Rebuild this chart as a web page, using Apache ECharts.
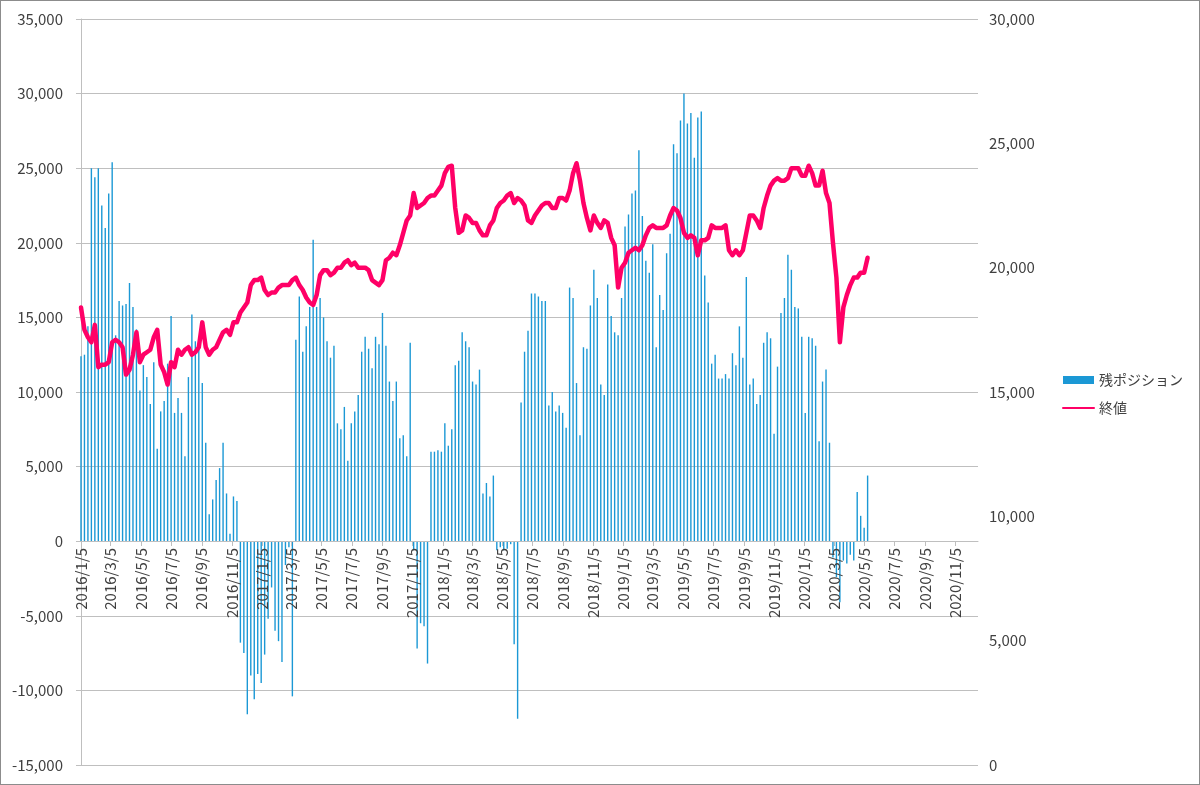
<!DOCTYPE html>
<html>
<head>
<meta charset="utf-8">
<script src="https://cdn.jsdelivr.net/npm/echarts@6/dist/echarts.min.js"></script>
<style>
  html, body { margin: 0; padding: 0; background: #fff; }
  #main { width: 1200px; height: 785px; box-sizing: border-box; border: 1px solid #8c8c8c; }
</style>
</head>
<body>
<div id="main"></div>
<script>
// weekly series, first week 2016/1/5; x is counted in days from this date
var DAY = 86400000;
var startUTC = Date.UTC(2016, 0, 5);

// 残ポジション (left axis)
var positions = [
  12400, 12500, 14400, 25000, 24400, 25000, 22500, 21000, 23300, 25400, 13800, 16100, 15800, 15900, 17300, 15700, 14200, 10100, 11800, 11000, 9200, 12000,
  6200, 8700, 9400, 11900, 15100, 8600, 9600, 8600, 5700, 11000, 15200, 13400, 13400, 10600, 6600, 1800, 2800, 4100, 4900, 6600, 3200, 500, 3000,
  2700, -6800, -7500, -11600, -9000, -10600, -8900, -9500, -7600, -5200, -3100, -6000, -6700, -8100, -1600, -400, -10400, 13500, 16400, 12700, 14400, 15700, 20200,
  15700, 16300, 15000, 13400, 12300, 13100, 7900, 7500, 9000, 5400, 7900, 8700, 9800, 12700, 13700, 12900, 11600, 13700, 13200, 15300, 13100, 10700, 9400,
  10700, 6900, 7100, 5700, 13300, -600, -7200, -5500, -5700, -8200, 6000, 6000, 6100, 6000, 7900, 6400, 7500, 11800, 12100, 14000, 13400, 13000, 10700, 10500,
  11500, 3200, 3900, 3000, 4400, -600, -400, -600, -500, -200, -6900, -11900, 9300, 12700, 14100, 16600, 16600, 16400, 16100, 16100, 9100, 10000, 8700,
  9100, 8600, 7600, 17000, 16300, 10600, 7100, 13000, 12900, 15800, 18200, 16300, 10500, 9800, 17200, 15100, 14000, 13800, 16300, 21100, 21900, 23300, 23500,
  26200, 21800, 18800, 18000, 19900, 13000, 16500, 15500, 19300, 20600, 26600, 26000, 28200, 30000, 28000, 28700, 25700, 28400, 28800, 17800, 16000, 11900, 12500,
  10900, 10900, 11200, 10900, 12600, 11800, 14400, 12300, 17700, 10500, 10900, 9200, 9800, 13300, 14000, 13600, 7200, 11700, 15300, 16300, 19200, 18200, 15700,
  15600, 13700, 8600, 13700, 13600, 13100, 6700, 10700, 11500, 6600, -1100, -2400, -4100, -1300, -1500, -900, -1300, 3300, 1700, 900, 4400
];

// 終値 (right axis)
var closes = [
  18400, 17500, 17200, 17000, 17700, 16000, 16100, 16100, 16200, 17000, 17100, 17000, 16800, 15700, 15900, 16500, 17400, 16200, 16500, 16600, 16700, 17200,
  17500, 16100, 15800, 15300, 16200, 16000, 16700, 16500, 16700, 16800, 16500, 16600, 16800, 17800, 16800, 16500, 16700, 16800, 17100, 17400, 17500, 17300, 17800,
  17800, 18200, 18400, 18600, 19300, 19500, 19500, 19600, 19100, 18900, 19000, 19000, 19200, 19300, 19300, 19300, 19500, 19600, 19300, 19100, 18800, 18600, 18500,
  18900, 19700, 19900, 19900, 19700, 19800, 20000, 20000, 20200, 20300, 20100, 20200, 20000, 20000, 20000, 19900, 19500, 19400, 19300, 19500, 20300, 20400, 20600,
  20500, 20900, 21400, 21900, 22100, 23000, 22400, 22500, 22600, 22800, 22900, 22900, 23100, 23300, 23800, 24050, 24100, 22400, 21400, 21500, 22100, 22000, 21800, 21800,
  21500, 21300, 21300, 21700, 21900, 22400, 22600, 22700, 22900, 23000, 22600, 22800, 22700, 22500, 21900, 21800, 22100, 22300, 22500, 22600, 22600, 22400, 22400,
  22800, 22800, 22700, 23100, 23800, 24200, 23500, 22600, 22000, 21500, 22100, 21800, 21600, 21900, 21800, 21200, 20900, 19200, 20000, 20200, 20600, 20700, 20800,
  20700, 20900, 21300, 21600, 21700, 21600, 21600, 21600, 21700, 22100, 22400, 22300, 22000, 21400, 21200, 21300, 21200, 20500, 21100, 21100, 21200, 21700, 21600,
  21600, 21600, 21700, 20700, 20500, 20700, 20500, 20700, 21400, 22100, 22100, 21900, 21600, 22400, 22900, 23300, 23500, 23600, 23500, 23500, 23600, 24000, 24000,
  24000, 23700, 23700, 24100, 23800, 23300, 23300, 23900, 23000, 22600, 21000, 19600, 17000, 18400, 18900, 19300, 19600, 19600, 19800, 19800, 20400
];

function dayOf(y, m, d) {
  return Math.round((Date.UTC(y, m, d) - startUTC) / DAY);
}

// x axis labels: every two months on the 5th
var labelDays = [];
for (var y = 2016; y <= 2020; y++) {
  for (var m = 0; m < 12; m += 2) {
    labelDays.push(dayOf(y, m, 5));
  }
}

var barData = positions.map(function (v, i) { return [i * 7, v]; });
var lineData = closes.map(function (v, i) { return [i * 7, v]; });

function fmtNum(v) {
  return v.toLocaleString('en-US');
}

// plot box inside the 1198x783 drawing area
var gridTop = 18, gridBottom = 19, plotH = 783 - gridTop - gridBottom;
// the date axis sits on the 0 line of the left axis (-15000..35000)
var zeroOffset = -Math.round(plotH * 15000 / 50000);

var chart = echarts.init(document.getElementById('main'));
chart.setOption({
  animation: false,
  textStyle: { fontFamily: 'Noto Sans CJK JP' },
  grid: { left: 79, right: 221, top: gridTop, bottom: gridBottom, outerBoundsMode: 'none' },
  legend: {
    orient: 'vertical',
    left: 1056,
    top: 367,
    itemWidth: 31,
    itemHeight: 8,
    itemGap: 14,
    textStyle: { fontSize: 14, color: '#404040' },
    data: [
      { name: '残ポジション', icon: 'rect' },
      { name: '終値', itemStyle: { opacity: 0 } }
    ]
  },
  xAxis: {
    type: 'value',
    min: dayOf(2016, 0, 3),
    max: dayOf(2020, 11, 21),
    offset: zeroOffset,
    z: 4,
    axisLine: { onZero: false, lineStyle: { color: '#bfbfbf', width: 1 } },
    axisTick: { show: true, customValues: labelDays, length: 5, lineStyle: { color: '#bfbfbf' } },
    axisLabel: {
      customValues: labelDays,
      rotate: 90,
      margin: 7,
      fontSize: 15,
      color: '#404040',
      formatter: function (v) {
        var d = new Date(startUTC + v * DAY);
        return d.getUTCFullYear() + '/' + (d.getUTCMonth() + 1) + '/' + d.getUTCDate();
      }
    },
    splitLine: { show: false }
  },
  yAxis: [
    {
      type: 'value',
      min: -15000,
      max: 35000,
      interval: 5000,
      axisLine: { show: true, lineStyle: { color: '#bfbfbf' } },
      axisTick: { show: true, length: 5, lineStyle: { color: '#bfbfbf' } },
      axisLabel: { fontSize: 15, color: '#404040', margin: 17, formatter: fmtNum },
      splitLine: { lineStyle: { color: '#bfbfbf' } }
    },
    {
      type: 'value',
      min: 0,
      max: 30000,
      interval: 5000,
      axisLine: { show: false },
      axisTick: { show: false },
      axisLabel: { fontSize: 15, color: '#404040', margin: 11, formatter: fmtNum },
      splitLine: { show: false }
    }
  ],
  series: [
    {
      name: '残ポジション',
      type: 'bar',
      data: barData,
      barWidth: 1.4,
      itemStyle: { color: '#1b98d5' }
    },
    {
      name: '終値',
      type: 'line',
      yAxisIndex: 1,
      data: lineData,
      symbol: 'none',
      lineStyle: { color: '#ff0066', width: 4.5, cap: 'round', join: 'round' },
      itemStyle: { color: '#ff0066' },
      z: 3
    }
  ]
});
</script>
</body>
</html>
